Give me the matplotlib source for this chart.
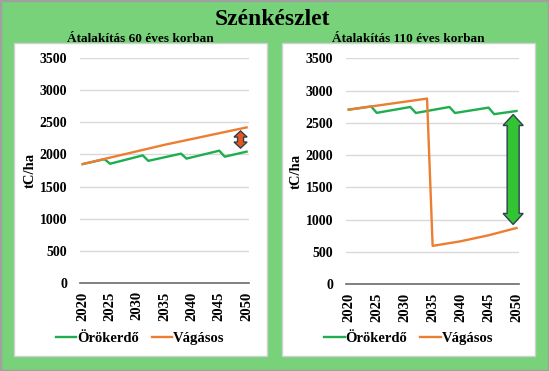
import matplotlib
matplotlib.use("Agg")
import matplotlib.pyplot as plt
from matplotlib.patches import Rectangle, Polygon

plt.rcParams['font.family'] = ['Liberation Serif', 'DejaVu Serif']
plt.rcParams['font.weight'] = 'bold'

# Data (vertices of the yearly series)
title = "Szénkészlet"
panel_titles = ["Átalakítás 60 éves korban", "Átalakítás 110 éves korban"]
series_names = ["Örökerdő", "Vágásos"]

oro_years_60 = [2020, 2024, 2025, 2031, 2032, 2038, 2039, 2045, 2046, 2050]
oro_60 = [1850, 1926, 1855, 1985, 1900, 2012, 1935, 2058, 1965, 2043]
vag_years_60 = [2020, 2035, 2050]
vag_60 = [1850, 2150, 2420]

oro_years_110 = [2020, 2024, 2025, 2031, 2032, 2038, 2039, 2045, 2046, 2050]
oro_110 = [2705, 2754, 2655, 2746, 2653, 2746, 2653, 2736, 2635, 2684]
vag_years_110 = [2020, 2034, 2035, 2040, 2045, 2050]
vag_110 = [2705, 2876, 595, 666, 759, 872]

year_ticks = [2020, 2025, 2030, 2035, 2040, 2045, 2050]
y_ticks = [0, 500, 1000, 1500, 2000, 2500, 3000, 3500]

GREEN = '#1DAE4F'
ORANGE = '#ED7D31'
BG = '#77D27A'


def double_arrow(ax, x, y_lo, y_hi, width, shaft, head, color):
    hw, sw = width / 2, shaft / 2
    pts = [(x, y_hi), (x + hw, y_hi - head), (x + sw, y_hi - head),
           (x + sw, y_lo + head), (x + hw, y_lo + head), (x, y_lo),
           (x - hw, y_lo + head), (x - sw, y_lo + head),
           (x - sw, y_hi - head), (x - hw, y_hi - head)]
    ax.add_patch(Polygon(pts, closed=True, fc=color, ec='#2F3F4F',
                         lw=1, zorder=5, clip_on=False))


fig = plt.figure(figsize=(5.49, 3.71), dpi=100, facecolor=BG)
fig.patches.append(Rectangle((0, 0), 1, 1, transform=fig.transFigure,
                             fill=False, ec='#A0A0A0', lw=2.5, zorder=10))
fig.text(0.4964, 0.9326, title, ha='center', va='baseline',
         fontsize=17, fontweight='bold')

panels = [
    dict(box=0.0255, axx=0.1457, axw=0.3084, axb=0.2372, axh=0.6065,
         ox=oro_years_60, oy=oro_60, vx=vag_years_60, vy=vag_60,
         arrow=dict(x=2048.9, width=2.4, shaft=1.1, head=95, color='#E8561E')),
    dict(box=0.5142, axx=0.6302, axw=0.3157, axb=0.2337, axh=0.6092,
         ox=oro_years_110, oy=oro_110, vx=vag_years_110, vy=vag_110,
         arrow=dict(x=2049.4, width=3.6, shaft=2.15, head=170, color='#33C433')),
]

for p, ptitle in zip(panels, panel_titles):
    fig.patches.append(Rectangle((p['box'], 0.0412), 0.4603, 0.842,
                                 transform=fig.transFigure, fc='white',
                                 ec='#D0D0D0', lw=1, zorder=-5))
    fig.text(p['box'] + 0.4603 / 2, 0.8876, ptitle, ha='center',
             va='baseline', fontsize=9.5, fontweight='bold')

    ax = fig.add_axes([p['axx'], p['axb'], p['axw'], p['axh']])
    ax.set_facecolor('none')
    l1, = ax.plot(p['ox'], p['oy'], color=GREEN, lw=1.7, zorder=3)
    l2, = ax.plot(p['vx'], p['vy'], color=ORANGE, lw=1.7, zorder=4)

    ax.set_xlim(2019.5, 2050.5)
    ax.set_ylim(0, 3500)
    ax.set_yticks(y_ticks)
    ax.set_xticks(year_ticks)
    ax.set_xticklabels([str(y) for y in year_ticks], rotation=90)
    ax.tick_params(axis='y', length=0, pad=9, labelsize=10)
    ax.tick_params(axis='x', length=0, pad=6, labelsize=10.5)
    ax.grid(axis='y', color='#D9D9D9', lw=1)
    ax.set_axisbelow(True)
    for s in ['top', 'right', 'left']:
        ax.spines[s].set_visible(False)
    ax.spines['bottom'].set_color('#6B6B6B')
    ax.spines['bottom'].set_linewidth(1.2)
    ax.set_ylabel('tC/ha', fontsize=10.5, fontweight='bold', labelpad=2)

    a = p['arrow']
    lo = min(p['oy'][-1], p['vy'][-1]) + 55
    hi = max(p['oy'][-1], p['vy'][-1]) - 55
    double_arrow(ax, a['x'], lo, hi, a['width'], a['shaft'], a['head'], a['color'])

    ax.legend([l1, l2], series_names, loc='center', ncol=2, frameon=False,
              bbox_to_anchor=(p['box'] + 0.4603 / 2, 0.0889),
              bbox_transform=fig.transFigure, fontsize=10.5,
              handlelength=1.4, handletextpad=0.05, columnspacing=0.9)

fig.savefig('out.png', dpi=100, facecolor=BG)
